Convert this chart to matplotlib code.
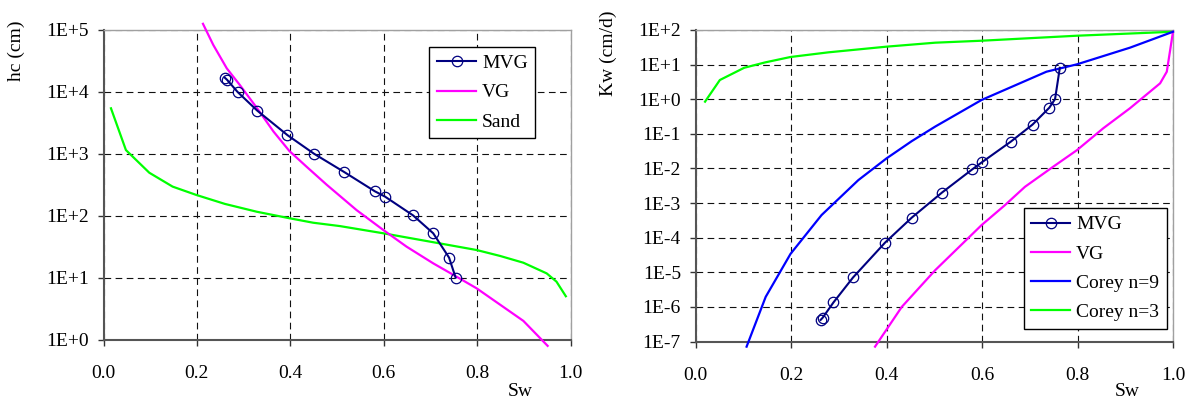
import matplotlib
matplotlib.use("Agg")
import matplotlib.pyplot as plt
from matplotlib.ticker import FixedLocator, NullLocator, FixedFormatter

# ---------------- data: left panel (capillary pressure) ----------------
mvg_sw_h = [0.260, 0.2645, 0.287, 0.329, 0.394, 0.451, 0.515, 0.581, 0.603, 0.663, 0.706, 0.740, 0.754]
mvg_h = [16900, 15700, 10000, 5000, 2000, 1000, 510, 248, 203, 101, 52, 21, 10]

vg_sw_h = [0.213, 0.235, 0.264, 0.292, 0.329, 0.364, 0.398, 0.435, 0.478, 0.542, 0.599, 0.649,
           0.706, 0.756, 0.799, 0.899, 0.951]
vg_h = [125900, 57500, 24000, 12900, 5430, 2290, 1110, 617, 316, 123, 58.9, 31.6,
        17.0, 10.35, 6.71, 2.0, 0.79]

sand_sw = [0.016, 0.048, 0.098, 0.148, 0.199, 0.260, 0.328, 0.398, 0.449, 0.506, 0.599, 0.700,
           0.799, 0.849, 0.899, 0.949, 0.970, 0.990]
sand_h = [5430, 1150, 495, 295, 216, 155, 116, 91, 77, 68, 52, 38,
          27.9, 22.4, 17.4, 11.7, 8.6, 5.0]

# ---------------- data: right panel (permeability) ----------------
mvg_sw_k = [0.262, 0.266, 0.289, 0.330, 0.397, 0.453, 0.516, 0.580, 0.601, 0.660, 0.706, 0.741, 0.753, 0.763]
mvg_k = [4.2e-7, 4.8e-7, 1.35e-6, 7.1e-6, 7.2e-5, 3.8e-4, 2.0e-3, 9.5e-3, 0.0155, 0.059, 0.186, 0.57, 1.01, 8.1]

vg_sw_k = [0.376, 0.432, 0.502, 0.599, 0.648, 0.690, 0.749, 0.799, 0.854, 0.910, 0.973, 0.987, 1.0]
vg_k = [7.1e-8, 1.0e-6, 1.15e-5, 2.3e-4, 8.7e-4, 2.95e-3, 0.0112, 0.0339, 0.145, 0.55, 2.88, 6.24, 89]

c9_sw = [0.107, 0.147, 0.199, 0.264, 0.341, 0.400, 0.453, 0.502, 0.599, 0.735, 0.799, 0.910, 1.0]
c9_k = [7.1e-8, 1.95e-6, 3.4e-5, 4.5e-4, 4.6e-3, 0.0195, 0.0617, 0.162, 0.95, 6.24, 10.2, 30.9, 89]

c3_sw = [0.020, 0.051, 0.102, 0.146, 0.199, 0.278, 0.400, 0.502, 0.599, 0.799, 1.0]
c3_k = [0.85, 3.59, 8.1, 11.6, 16.6, 22.6, 33, 43, 49, 68.4, 89]

x_ticks = [0.0, 0.2, 0.4, 0.6, 0.8, 1.0]
x_labels = ["0.0", "0.2", "0.4", "0.6", "0.8", "1.0"]
h_ticks = [1e0, 1e1, 1e2, 1e3, 1e4, 1e5]
h_labels = ["1E+0", "1E+1", "1E+2", "1E+3", "1E+4", "1E+5"]
k_ticks = [1e-7, 1e-6, 1e-5, 1e-4, 1e-3, 1e-2, 1e-1, 1e0, 1e1, 1e2]
k_labels = ["1E-7", "1E-6", "1E-5", "1E-4", "1E-3", "1E-2", "1E-1", "1E+0", "1E+1", "1E+2"]

NAVY = "#000080"
MAG = "#ff00ff"
GREEN = "#00ff00"
BLUE = "#0000ff"
FS = 14

plt.rcParams["font.family"] = ["Liberation Serif", "DejaVu Serif"]
plt.rcParams["font.size"] = FS

fig = plt.figure(figsize=(11.97, 4.01), dpi=100)
W, H = 1197.0, 401.0

def make_ax(x0, x1, y0, y1):
    return fig.add_axes([x0 / W, 1 - y1 / H, (x1 - x0) / W, (y1 - y0) / H])

ax1 = make_ax(103.5, 570.5, 30, 339.5)
ax2 = make_ax(695.5, 1173, 30, 341.5)

def style(ax, yticks, ylabels):
    ax.set_yscale("log")
    ax.set_xlim(0, 1)
    ax.set_ylim(yticks[0], yticks[-1])
    ax.xaxis.set_major_locator(FixedLocator(x_ticks))
    ax.xaxis.set_major_formatter(FixedFormatter(x_labels))
    ax.yaxis.set_major_locator(FixedLocator(yticks))
    ax.yaxis.set_major_formatter(FixedFormatter(ylabels))
    ax.yaxis.set_minor_locator(NullLocator())
    ax.xaxis.set_minor_locator(NullLocator())
    ax.set_axisbelow(True)
    ax.grid(True, color="#111111", lw=0.8, linestyle=(0, (6, 4)))
    for s in ("left", "bottom"):
        ax.spines[s].set_color("#555555")
        ax.spines[s].set_linewidth(1.5)
    for s in ("top", "right"):
        ax.spines[s].set_color("#a0a0a0")
        ax.spines[s].set_linewidth(1.0)
    ax.tick_params(axis="x", direction="out", length=4, width=1, color="#333333", pad=14, labelsize=FS)
    ax.tick_params(axis="y", direction="out", length=4, width=1, color="#333333", pad=6.5, labelsize=FS)

style(ax1, h_ticks, h_labels)
style(ax2, k_ticks, k_labels)

# left panel
ax1.plot(mvg_sw_h, mvg_h, color=NAVY, lw=1.5, marker="o", ms=7.5, mfc="none", mec=NAVY, mew=0.9, label="MVG", zorder=5)
ax1.plot(vg_sw_h, vg_h, color=MAG, lw=1.6, label="VG", clip_on=False, zorder=4)
ax1.plot(sand_sw, sand_h, color=GREEN, lw=1.6, label="Sand", zorder=3)
ax1.set_ylim(1, 1e5)

# right panel
ax2.plot(mvg_sw_k, mvg_k, color=NAVY, lw=1.5, marker="o", ms=7.5, mfc="none", mec=NAVY, mew=0.9, label="MVG", zorder=5)
ax2.plot(vg_sw_k, vg_k, color=MAG, lw=1.6, label="VG", clip_on=False, zorder=4)
ax2.plot(c9_sw, c9_k, color=BLUE, lw=1.6, label="Corey n=9", clip_on=False, zorder=4)
ax2.plot(c3_sw, c3_k, color=GREEN, lw=1.6, label="Corey n=3", zorder=3)
ax2.set_ylim(1e-7, 1e2)

leg_kw = dict(frameon=True, fancybox=False, framealpha=1, edgecolor="black", fontsize=FS,
              handlelength=2.0, handletextpad=0.3, borderpad=0.4, labelspacing=0.6,
              borderaxespad=0)
l1 = ax1.legend(loc="upper left", bbox_to_anchor=(0.698, 0.946), **leg_kw)
l1.get_frame().set_linewidth(1.0)
l2 = ax2.legend(loc="lower right", bbox_to_anchor=(0.987, 0.040), **leg_kw)
l2.get_frame().set_linewidth(1.0)

ax1.set_ylabel("hc (cm)", fontsize=FS)
ax1.yaxis.set_label_coords(-0.168, 0.932)
ax1.set_xlabel("Sw", fontsize=FS)
ax1.xaxis.set_label_coords(0.892, -0.14)

ax2.set_ylabel("Kw (cm/d)", fontsize=FS)
ax2.yaxis.set_label_coords(-0.164, 0.926)
ax2.set_xlabel("Sw", fontsize=FS)
ax2.xaxis.set_label_coords(0.905, -0.133)

fig.savefig("out.png", dpi=100)
